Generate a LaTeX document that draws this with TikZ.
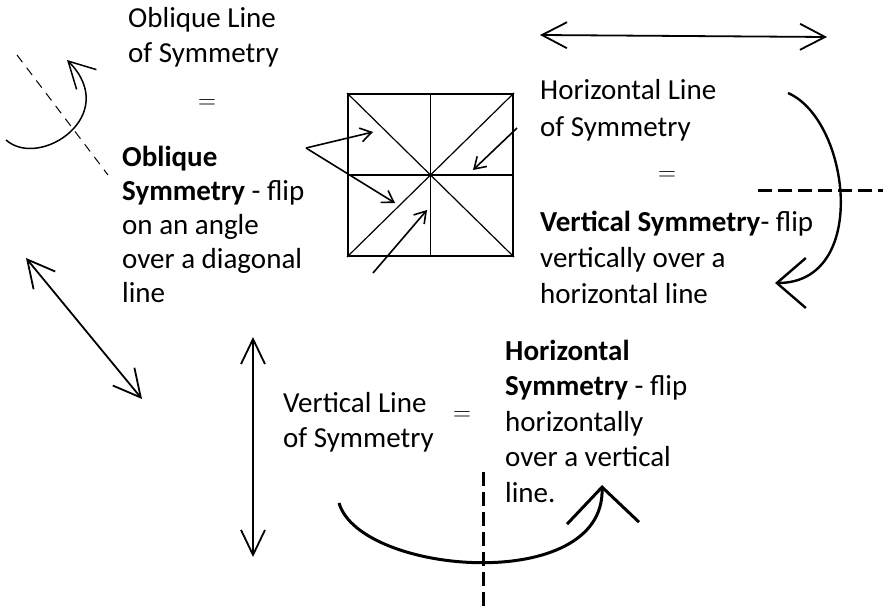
\documentclass[tikz,border=0pt]{standalone}
\usepackage{fontspec}
\setmainfont{Carlito}
\usetikzlibrary{arrows.meta}

\begin{document}
\begin{tikzpicture}[x=1pt, y=-1pt,
  txt/.style={anchor=base west, align=left, inner sep=0pt, font=\fontsize{29}{35}\selectfont},
  eq/.style={inner sep=0pt, font=\fontsize{30}{34}\selectfont},
  fold/.style={line width=1.2pt},
  pointer/.style={-{Straight Barb[length=11pt,width=14pt]}, line width=1.6pt},
  flip/.style={line width=1.8pt},
  axis/.style={line width=3pt, dash pattern=on 14pt off 6pt}
]
  \useasboundingbox (0,0) rectangle (890,607);

  % Text blocks (placed by the baseline of their last line)
  \node[txt] (oblline) at (128,63) {Oblique Line\\of Symmetry};
  \node[eq] (eqobl) at (207,104) {$=$};
  \node[txt, font=\fontsize{29}{34}\selectfont] (oblsym) at (122,302) {\textbf{Oblique}\\\textbf{Symmetry} - flip\\on an angle\\over a diagonal\\line};
  \node[txt, font=\fontsize{29}{37}\selectfont] (horline) at (540,136) {Horizontal Line\\of Symmetry};
  \node[eq] (eqhor) at (667,176) {$=$};
  \node[txt, font=\fontsize{29}{36}\selectfont] (versym) at (540,303) {\textbf{Vertical Symmetry}- flip\\vertically over a\\horizontal line};
  \node[txt] (verline) at (283,447) {Vertical Line\\of Symmetry};
  \node[eq] (eqver) at (462,416) {$=$};
  \node[txt, font=\fontsize{29}{35.5}\selectfont] (horsym) at (505,502) {\textbf{Horizontal}\\\textbf{Symmetry} - flip\\horizontally\\over a vertical\\line.};

  % Square with its lines of symmetry
  \node[draw, line width=2pt, minimum width=165pt, minimum height=162pt] (square) at (430.5,175) {};
  \draw[fold] (square.north) -- (square.south);
  \draw[fold] (square.west) -- (square.east);
  \draw[fold] (square.north west) -- (square.south east);
  \draw[fold] (square.north east) -- (square.south west);

  % Pointers into the square
  \coordinate (oblfrom) at (306,148);
  \coordinate (oblto1) at (373,132);
  \coordinate (oblto2) at (395,203);
  \coordinate (horfrom) at (517,128);
  \coordinate (horto) at (473,170);
  \coordinate (verfrom) at (373,273);
  \coordinate (verto) at (427,210);
  \draw[pointer] (oblfrom) -- (oblto1);
  \draw[pointer] (oblfrom) -- (oblto2);
  \draw[pointer] (horfrom) -- (horto);
  \draw[pointer] (verfrom) -- (verto);

  % Oblique flip (left)
  \coordinate (oblaxisA) at (17,55);
  \coordinate (oblaxisB) at (108,175);
  \draw[line width=1pt, dash pattern=on 9pt off 7pt] (oblaxisA) -- (oblaxisB);
  \coordinate (oblturnA) at (6,140);
  \coordinate (oblturnB) at (67,60);
  \draw[flip, line width=1.5pt, -{Straight Barb[length=26pt,width=28pt]}] (oblturnA) .. controls (40,170) and (122,115) .. (oblturnB);
  \coordinate (diagA) at (26,258);
  \coordinate (diagB) at (142,399);
  \draw[flip, {Straight Barb[length=27pt,width=28pt]}-{Straight Barb[length=27pt,width=28pt]}] (diagA) -- (diagB);

  % Vertical flip (right)
  \coordinate (horarrA) at (540,35);
  \coordinate (horarrB) at (827,37);
  \draw[flip, {Straight Barb[length=25pt,width=26pt]}-{Straight Barb[length=25pt,width=26pt]}] (horarrA) -- (horarrB);
  \coordinate (haxisA) at (758,190);
  \coordinate (haxisB) at (883,190);
  \draw[axis] (haxisA) -- (haxisB);
  \coordinate (vturnA) at (788,93);
  \coordinate (vturnB) at (775,283);
  \draw[flip, line width=2.4pt, -{Straight Barb[length=29pt,width=50pt]}] (vturnA) .. controls (850,120) and (870,283) .. (vturnB);

  % Horizontal flip (bottom)
  \coordinate (verarrA) at (253,337);
  \coordinate (verarrB) at (253,557);
  \draw[flip, {Straight Barb[length=25pt,width=24pt]}-{Straight Barb[length=25pt,width=24pt]}] (verarrA) -- (verarrB);
  \coordinate (vaxisA) at (483,472);
  \coordinate (vaxisB) at (483,607);
  \draw[axis] (vaxisA) -- (vaxisB);
  \coordinate (hturnA) at (339,503);
  \coordinate (hturnB) at (602,485);
  \draw[flip, line width=3pt, -{Straight Barb[length=36pt,width=72pt]}] (hturnA) .. controls (360,575) and (605,595) .. (hturnB);
\end{tikzpicture}
\end{document}
